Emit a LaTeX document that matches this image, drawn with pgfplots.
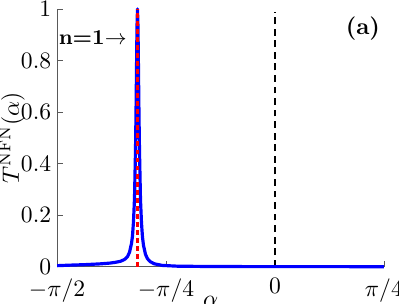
\documentclass[border=0pt]{standalone}
\usepackage{pgfplots}
\pgfplotsset{compat=1.18}
\begin{document}
\begin{tikzpicture}
\begin{axis}[
  name=ax,
  scale only axis,
  width=138.6pt, height=109.3pt,
  xmin=-1.5708, xmax=0.7854,
  ymin=0, ymax=1,
  axis lines=left,
  axis line style={-, black!65, line width=0.4pt},
  major tick style={black!65},
  tick align=inside,
  major tick length=2.5pt,
  xtick={-1.5708,-0.7854,0,0.7854},
  xticklabels={$-\pi/2$,$-\pi/4$,$0$,$\pi/4$},
  ytick={0,0.2,0.4,0.6,0.8,1},
  yticklabels={$0$,$0.2$,$0.4$,$0.6$,$0.8$,$1$},
  xticklabel style={yshift=-1.4pt},
  yticklabel style={xshift=1pt},
  xlabel={$\alpha$},
  ylabel={$T^{\mathrm{NFN}}(\alpha)$},
  xlabel style={at={(axis description cs:0.47,-0.112)}, anchor=north, inner sep=0pt},
  ylabel style={at={(axis description cs:-0.097,0.5)}, anchor=south, inner sep=0pt},
  clip=false,
]
\addplot[black, line width=0.8pt, dash pattern=on 2.9pt off 2pt] coordinates {(0,0) (0,0.99)};
\addplot[blue, line width=1.35pt, line join=round] coordinates {
(-1.5708,0.004) (-1.48,0.006) (-1.37,0.008) (-1.26,0.011) (-1.19,0.014)
(-1.15,0.017) (-1.1135,0.021) (-1.0847,0.028) (-1.063,0.039) (-1.0486,0.056)
(-1.0342,0.09) (-1.027,0.12) (-1.0198,0.175) (-1.0126,0.265) (-1.0054,0.45)
(-1.0018,0.59) (-0.9982,0.76) (-0.9946,0.93) (-0.991,1.0) (-0.9874,0.93)
(-0.9838,0.76) (-0.9802,0.59) (-0.9766,0.45) (-0.9694,0.26) (-0.9622,0.17)
(-0.955,0.115) (-0.9478,0.083) (-0.9334,0.048) (-0.919,0.031) (-0.8974,0.019)
(-0.8685,0.011) (-0.811,0.005) (-0.703,0.002) (-0.415,0.0005) (0.7854,0.0001)
};
\addplot[red, line width=1.35pt, dash pattern=on 2.1pt off 1.3pt] coordinates {(-0.991,0) (-0.991,1)};
\node[anchor=west, inner sep=0pt] at (axis cs:-1.562,0.888) {\fontsize{9}{10}\selectfont\textbf{n=1}$\rightarrow$};
\node[inner sep=0pt] at (axis cs:0.634,0.922) {\textbf{(a)}};
\end{axis}
\pgfresetboundingbox
\path[use as bounding box] ([xshift=-24.2pt,yshift=-15.7pt]ax.south west) rectangle ([xshift=6.4pt,yshift=3.8pt]ax.north east);
\end{tikzpicture}
\end{document}
